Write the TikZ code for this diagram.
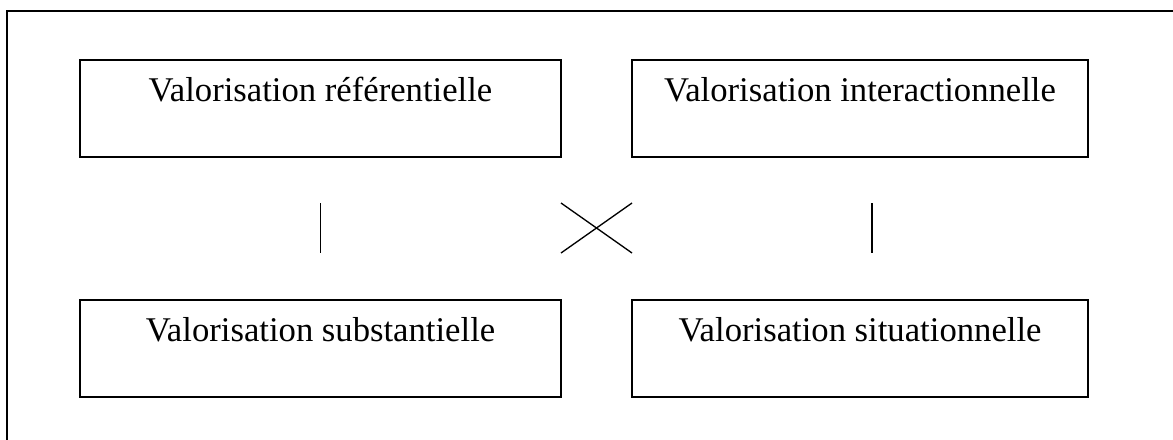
\documentclass[tikz,border=0pt]{standalone}
\usepackage{fontspec}
\setmainfont{Liberation Serif}

\tikzset{valbox/.style={draw, line width=1pt, inner sep=0pt, outer sep=0pt, anchor=north west,
	minimum height=72.75pt, text height=30.75pt, text depth=42pt,
	font=\fontsize{26}{31}\selectfont}}

\begin{document}
\begin{tikzpicture}[x=0.75pt, y=-0.75pt]
	\useasboundingbox (0,0) rectangle (1173,439);
	\draw [line width=1.4pt] (7,11) rectangle (1190,450);

	\node [valbox, minimum width=360.75pt] (ref) at (80,60) {Valorisation référentielle};
	\node [valbox, minimum width=342pt] (inter) at (632,60) {Valorisation interactionnelle};
	\node [valbox, minimum width=360.75pt] (subst) at (80,300) {Valorisation substantielle};
	\node [valbox, minimum width=342pt] (situ) at (632,300) {Valorisation situationnelle};

	\draw [line width=1pt, shorten <=34.5pt, shorten >=35.25pt] (ref) -- (subst);
	\draw [line width=1pt, shorten <=34.5pt, shorten >=35.25pt] ([xshift=9pt]inter.south) -- ([xshift=9pt]situ.north);

	\draw [line width=1pt] ([yshift=-34.5pt]ref.south east) -- ([yshift=35.25pt]situ.north west);
	\draw [line width=1pt] ([yshift=35.25pt]subst.north east) -- ([yshift=-34.5pt]inter.south west);
\end{tikzpicture}
\end{document}
